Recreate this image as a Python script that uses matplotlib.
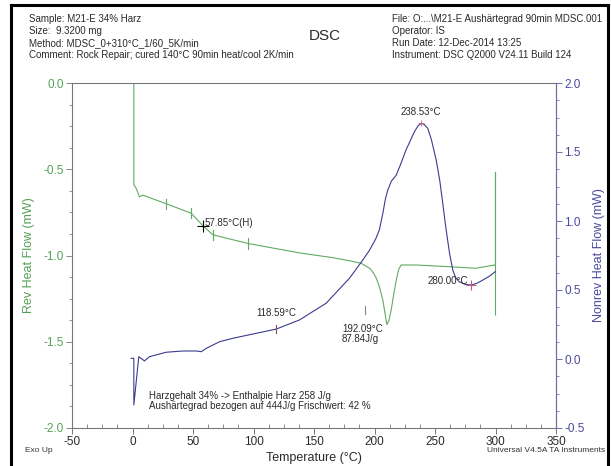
import matplotlib
matplotlib.use("Agg")
import matplotlib.pyplot as plt
from matplotlib.ticker import MultipleLocator
from matplotlib.lines import Line2D

plt.rcParams["font.family"] = ["Liberation Sans", "DejaVu Sans"]
plt.rcParams["axes.unicode_minus"] = False

# ---- data ----
rev_T = [1.1, 1.1, 3.0, 5.8, 8.5, 27.9, 48.5, 58.1, 66.4, 95.3, 138, 165, 179, 189, 196,
         199, 201.4, 204, 206.9, 209, 210.2, 211.8, 213.8, 216, 218, 220, 222, 234.4, 262,
         284, 299, 300, 300, 300]
rev_hf = [0.0, -0.59, -0.61, -0.66, -0.65, -0.70, -0.755, -0.827, -0.88, -0.93, -0.985,
          -1.012, -1.03, -1.045, -1.074, -1.10, -1.13, -1.18, -1.258, -1.35, -1.40, -1.38,
          -1.316, -1.22, -1.142, -1.08, -1.055, -1.055, -1.065, -1.074, -1.055, -1.06,
          -0.52, -1.345]

nrev_T = [-1.1, 1.1, 1.1, 5.2, 9.9, 14, 27.9, 41.6, 52.6, 56.8, 60.9, 71.9, 82.9, 102.2,
          118.8, 138, 160, 179.3, 190.3, 196, 201, 204, 207, 209, 211, 214, 216, 218, 222,
          226, 230, 233, 236, 238.6, 241, 244, 247, 251, 254, 256.4, 259, 262, 264.7, 267,
          270, 275, 280, 285, 289.5, 295, 299.8]
nrev_hf = [0.005, 0.005, -0.333, 0.017, -0.014, 0.017, 0.049, 0.058, 0.058, 0.053, 0.077,
           0.125, 0.15, 0.186, 0.217, 0.283, 0.404, 0.585, 0.717, 0.79, 0.87, 0.935, 1.06,
           1.16, 1.225, 1.29, 1.31, 1.333, 1.42, 1.514, 1.59, 1.647, 1.69, 1.708, 1.70,
           1.672, 1.59, 1.442, 1.29, 1.128, 0.95, 0.766, 0.645, 0.59, 0.56, 0.54, 0.536,
           0.55, 0.572, 0.60, 0.633]

rev_ticks_T = [27.9, 48.5, 66.4, 95.3]
rev_ticks_hf = [-0.70, -0.755, -0.88, -0.93]

GREEN = "#62aa62"
BLUE = "#3c3c8e"
GREEN_TXT = "#55a055"
BLUE_TXT = "#4a4a9e"
TXT = "#2a2a2a"

W, H = 611, 466
fig = plt.figure(figsize=(W / 100, H / 100), dpi=100)
ax = fig.add_axes([72 / W, 1 - 428 / H, (556 - 72) / W, (428 - 83) / H])
ax2 = ax.twinx()

# frame around figure
for xs, ys in [([11, 608], [5, 5]), ([11, 11], [5, 466]), ([608, 608], [5, 466])]:
    fig.add_artist(Line2D([x / W for x in xs], [1 - y / H for y in ys], color="black", lw=2.2))

ax.plot(rev_T, rev_hf, color=GREEN, lw=0.8)
ax2.plot(nrev_T, nrev_hf, color=BLUE, lw=0.8)

ax.set_xlim(-50, 350)
ax.set_ylim(-2.0, 0.0)
ax2.set_ylim(-0.5, 2.0)

# small marks on green curve
for t, v in zip(rev_ticks_T, rev_ticks_hf):
    ax.plot([t, t], [v + 0.03, v - 0.03], color=GREEN, lw=0.8)
ax.plot([58.1], [-0.827], marker="+", color="black", ms=8, mew=0.8)
ax.text(59.5, -0.81, "57.85°C(H)", fontsize=7, color=TXT, va="center", ha="left")

# marks on blue curve
ax2.plot([118.6, 118.6], [0.19, 0.245], color="#8a4a6a", lw=0.8)
ax2.text(118.6, 0.33, "118.59°C", fontsize=7, color=TXT, ha="center", va="center")
ax2.plot([238.6], [1.708], marker="+", color="#c06080", ms=4, mew=0.6)
ax2.text(238.6, 1.79, "238.53°C", fontsize=7, color=TXT, ha="center", va="center")
ax2.plot([280], [0.536], marker="+", color="#c06080", ms=7, mew=0.8)
ax2.text(277, 0.565, "280.00°C", fontsize=7, color=TXT, ha="right", va="center")
ax.plot([192.1, 192.1], [-1.29, -1.34], color="#888888", lw=0.8)
ax.text(173, -1.425, "192.09°C", fontsize=7, color=TXT, ha="left", va="center")
ax.text(173, -1.485, "87.84J/g", fontsize=7, color=TXT, ha="left", va="center")

ax.text(14, -1.815, "Harzgehalt 34% -> Enthalpie Harz 258 J/g", fontsize=7,
        color=TXT, ha="left", va="center")
ax.text(14, -1.87, "Aushärtegrad bezogen auf 444J/g Frischwert: 42 %", fontsize=7,
        color=TXT, ha="left", va="center")

# axes styling
ax.xaxis.set_major_locator(MultipleLocator(50))
ax.xaxis.set_minor_locator(MultipleLocator(12.5))
ax.yaxis.set_major_locator(MultipleLocator(0.5))
ax.yaxis.set_minor_locator(MultipleLocator(0.125))
ax2.yaxis.set_major_locator(MultipleLocator(0.5))
ax2.yaxis.set_minor_locator(MultipleLocator(0.125))
ax.yaxis.set_major_formatter(plt.FuncFormatter(lambda v, p: f"{v:.1f}"))
ax2.yaxis.set_major_formatter(plt.FuncFormatter(lambda v, p: f"{v:.1f}"))

for s in ["top", "bottom", "left"]:
    ax.spines[s].set_color("#777777")
    ax.spines[s].set_linewidth(0.8)
ax.spines["right"].set_visible(False)
for s in ["top", "bottom", "left"]:
    ax2.spines[s].set_visible(False)
ax2.spines["right"].set_color("#7070a8")
ax2.spines["right"].set_linewidth(0.9)

ax.tick_params(axis="x", which="major", direction="out", length=4, width=0.7,
               colors="#777777", labelcolor=TXT, labelsize=8.5, pad=1.5)
ax.tick_params(axis="x", which="minor", direction="in", length=3, width=0.6, colors="#777777")
ax.tick_params(axis="y", which="major", direction="out", length=4, width=0.7,
               colors="#888888", labelcolor=GREEN_TXT, labelsize=8.5, pad=2)
ax.tick_params(axis="y", which="minor", direction="out", length=2.5, width=0.6, colors="#888888")
ax2.tick_params(axis="y", which="major", direction="out", length=4, width=0.7,
                colors="#7070a8", labelcolor=BLUE_TXT, labelsize=8.5, pad=2)
ax2.tick_params(axis="y", which="minor", direction="out", length=2.5, width=0.6, colors="#7070a8")

ax.set_ylabel("Rev Heat Flow (mW)", color=GREEN_TXT, fontsize=9, labelpad=6)
ax2.set_ylabel("Nonrev Heat Flow (mW)", color=BLUE_TXT, fontsize=9, labelpad=6)
ax.set_xlabel("Temperature (°C)", color=TXT, fontsize=9, labelpad=3)

# header texts
hdr_l = ["Sample: M21-E 34% Harz", "Size:  9.3200 mg", "Method: MDSC_0+310°C_1/60_5K/min",
         "Comment: Rock Repair; cured 140°C 90min heat/cool 2K/min"]
hdr_r = ["File: O:...\\M21-E Aushärtegrad 90min MDSC.001", "Operator: IS",
         "Run Date: 12-Dec-2014 13:25", "Instrument: DSC Q2000 V24.11 Build 124"]
for i, t in enumerate(hdr_l):
    fig.text(29 / W, 1 - (19 + i * 12) / H, t, fontsize=7, color=TXT, va="center")
for i, t in enumerate(hdr_r):
    fig.text(392 / W, 1 - (19 + i * 12) / H, t, fontsize=7, color=TXT, va="center")
fig.text(325 / W, 1 - 36 / H, "DSC", fontsize=11, color=TXT, ha="center", va="center")
fig.text(25 / W, 1 - 450 / H, "Exo Up", fontsize=6, color="#333333", va="center")
fig.text(605 / W, 1 - 450 / H, "Universal V4.5A TA Instruments", fontsize=6,
         color="#333333", va="center", ha="right")

fig.savefig("out.png", dpi=100)
